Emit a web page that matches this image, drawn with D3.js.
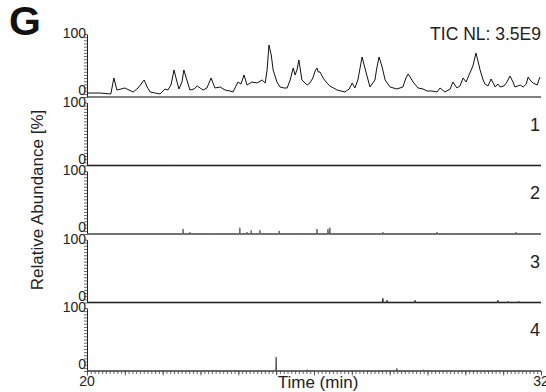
<!DOCTYPE html>
<html>
<head>
<meta charset="utf-8">
<script src="https://cdn.jsdelivr.net/npm/d3@7"></script>
<style>
  body { margin: 0; background: #fff; }
  text { font-family: "Liberation Sans", Arial, sans-serif; }
</style>
</head>
<body>
<div id="wrapper"></div>
<script>
// TIC trace (time in min, relative abundance in %)
const ticTime = [20.00, 20.34, 20.63, 20.71, 20.79, 20.90, 21.00, 21.11, 21.22, 21.35, 21.51, 21.59, 21.67, 21.80, 21.93,
  22.06, 22.14, 22.22, 22.30, 22.38, 22.43, 22.51, 22.56, 22.64, 22.72, 22.83, 22.91, 22.99, 23.07, 23.17, 23.28, 23.38,
  23.52, 23.65, 23.78, 23.86, 23.99, 24.07, 24.15, 24.23, 24.36, 24.49, 24.63, 24.71, 24.76, 24.81, 24.87, 24.92, 25.02,
  25.10, 25.21, 25.29, 25.37, 25.45, 25.50, 25.55, 25.60, 25.68, 25.82, 25.89, 25.97, 26.03, 26.08, 26.11, 26.16, 26.24,
  26.32, 26.42, 26.61, 26.82, 26.93, 27.01, 27.08, 27.16, 27.27, 27.38, 27.48, 27.61, 27.66, 27.72, 27.80, 27.88, 28.01,
  28.19, 28.35, 28.43, 28.49, 28.54, 28.62, 28.75, 28.88, 28.99, 29.12, 29.25, 29.33, 29.46, 29.60, 29.67, 29.78, 29.86,
  29.94, 30.02, 30.12, 30.20, 30.28, 30.34, 30.39, 30.47, 30.52, 30.60, 30.68, 30.79, 30.86, 30.92, 31.02, 31.10, 31.18,
  31.26, 31.31, 31.39, 31.45, 31.53, 31.61, 31.66, 31.71, 31.79, 31.90, 31.97]
const ticValue = [6.3, 6.3, 4.8, 30.2, 11.1, 12.7, 14.3, 11.1, 7.9, 14.3, 27.0, 15.9, 7.9, 6.3, 4.8,
  12.7, 11.1, 19.0, 42.9, 23.8, 12.7, 23.8, 42.9, 27.0, 11.1, 12.7, 17.5, 14.3, 11.1, 14.3, 30.2, 14.3,
  15.9, 11.1, 9.5, 7.9, 23.8, 20.6, 34.9, 19.0, 23.8, 22.2, 27.0, 22.2, 42.9, 82.5, 66.7, 42.9, 23.8,
  15.9, 14.3, 14.3, 27.0, 46.0, 34.9, 42.9, 58.7, 27.0, 19.0, 22.2, 30.2, 41.3, 46.0, 39.7, 39.7, 30.2,
  23.8, 17.5, 11.1, 7.9, 12.7, 22.2, 14.3, 27.0, 63.5, 38.1, 15.9, 27.0, 46.0, 63.5, 47.6, 27.0, 15.9,
  12.7, 15.9, 30.2, 36.5, 31.7, 23.8, 14.3, 12.7, 9.5, 9.5, 7.9, 14.3, 7.9, 12.7, 23.8, 14.3, 17.5,
  30.2, 23.8, 38.1, 49.2, 69.8, 55.6, 42.9, 27.0, 20.6, 17.5, 28.6, 15.9, 20.6, 15.9, 17.5, 23.8, 33.3,
  23.8, 15.9, 17.5, 19.0, 15.9, 20.6, 31.7, 27.0, 22.2, 19.0, 31.7]

// small spikes in the extracted traces 1-4
const trace1Time = [22.27]
const trace1Value = [1]
const trace2Time = [21.98, 22.54, 22.72, 22.91, 23.20, 24.04, 24.23, 24.34, 24.57, 25.08, 25.55, 25.68, 26.08, 26.37, 26.42, 26.95, 27.82, 29.25, 29.73, 31.34]
const trace2Value = [1.5, 8, 3, 1.5, 1.5, 10, 3, 6, 6, 5, 1.5, 1.5, 8, 8, 10, 1.5, 3, 3, 1.5, 3]
const trace3Time = [27.82, 27.93, 28.67, 30.86, 31.13, 31.42]
const trace3Value = [6.5, 3.3, 3.3, 3.3, 1.7, 1.7]
const trace4Time = [25.00, 25.82, 28.19, 28.88]
const trace4Value = [22, 2, 4, 2]

const panelLabels = ['', '1', '2', '3', '4']
const timeDomain = [20, 32]

const width = 546
const height = 392
const dims = {
  left: 87,
  right: 541,
  firstBase: 97,
  step: 68.5,
  panelHeight: 63
}

const svg = d3.select('#wrapper')
  .append('svg')
  .attr('width', width)
  .attr('height', height)

const xScale = d3.scaleLinear().domain(timeDomain).range([dims.left, dims.right])

const ticData = ticTime.map((t, i) => ({ t, v: ticValue[i] }))

const spikes = (times, values) => {
  const pts = [{ t: timeDomain[0], v: 0 }]
  times.forEach((t, i) => {
    pts.push({ t: t - 0.012, v: 0 }, { t, v: values[i] }, { t: t + 0.012, v: 0 })
  })
  pts.push({ t: timeDomain[1], v: 0 })
  return pts
}

const traces = [
  { data: ticData, color: '#111' },
  { data: spikes(trace1Time, trace1Value), color: '#222' },
  { data: spikes(trace2Time, trace2Value), color: '#666' },
  { data: spikes(trace3Time, trace3Value), color: '#222' },
  { data: spikes(trace4Time, trace4Value), color: '#555' }
]

traces.forEach((trace, i) => {
  const base = dims.firstBase + i * dims.step
  const yScale = d3.scaleLinear().domain([0, 100]).range([base, base - dims.panelHeight])
  const g = svg.append('g')

  // panel baseline
  g.append('line')
    .attr('x1', dims.left).attr('x2', dims.right)
    .attr('y1', base).attr('y2', base)
    .attr('stroke', '#808080')
    .attr('stroke-width', 2)

  // y axis with minor ticks
  const yAxis = g.append('g')
    .attr('transform', `translate(${dims.left},0)`)
    .call(d3.axisLeft(yScale).tickValues(d3.range(0, 101, 5)).tickSize(3).tickSizeOuter(0).tickFormat(''))
  yAxis.select('.domain').attr('stroke', '#222').attr('stroke-width', 1)
  yAxis.selectAll('.tick line').attr('stroke', '#444').attr('stroke-width', 0.8)

  g.append('text')
    .attr('x', dims.left - 1)
    .attr('y', yScale(100) + 4)
    .attr('text-anchor', 'end')
    .attr('font-size', '14px')
    .attr('fill', '#222')
    .text('100')
  g.append('text')
    .attr('x', dims.left - 1)
    .attr('y', yScale(0) - 2)
    .attr('text-anchor', 'end')
    .attr('font-size', '14px')
    .attr('fill', '#222')
    .text('0')

  const line = d3.line()
    .x(d => xScale(d.t))
    .y(d => yScale(d.v))

  g.append('path')
    .datum(trace.data)
    .attr('d', line)
    .attr('fill', 'none')
    .attr('stroke', trace.color)
    .attr('stroke-width', 1)

  if (panelLabels[i]) {
    g.append('text')
      .attr('x', dims.right - 1)
      .attr('y', base - dims.panelHeight + 28)
      .attr('text-anchor', 'end')
      .attr('font-size', '18px')
      .attr('fill', '#222')
      .text(panelLabels[i])
  }
})

// x axis on the bottom panel
const xBase = dims.firstBase + 4 * dims.step
const xMinor = svg.append('g')
  .attr('transform', `translate(0,${xBase})`)
  .call(d3.axisBottom(xScale).tickValues(d3.range(20, 32.001, 0.1)).tickSize(3).tickSizeOuter(0).tickFormat(''))
xMinor.select('.domain').remove()
xMinor.selectAll('.tick line').attr('stroke', '#444').attr('stroke-width', 0.8)

const xMajor = svg.append('g')
  .attr('transform', `translate(0,${xBase})`)
  .call(d3.axisBottom(xScale).tickValues(d3.range(20, 32.001, 1)).tickSize(4.5).tickSizeOuter(0).tickFormat(''))
xMajor.select('.domain').remove()
xMajor.selectAll('.tick line').attr('stroke', '#444').attr('stroke-width', 0.8)

svg.selectAll('.xlabel')
  .data(timeDomain)
  .enter().append('text')
  .attr('x', d => xScale(d))
  .attr('y', xBase + 15)
  .attr('text-anchor', 'middle')
  .attr('font-size', '14px')
  .attr('fill', '#222')
  .text(d => d)

svg.append('text')
  .attr('x', (dims.left + dims.right) / 2 + 4)
  .attr('y', xBase + 17)
  .attr('text-anchor', 'middle')
  .attr('font-size', '17px')
  .attr('fill', '#222')
  .text('Time (min)')

svg.append('text')
  .attr('transform', `translate(43,${200}) rotate(-90)`)
  .attr('text-anchor', 'middle')
  .attr('font-size', '17px')
  .attr('fill', '#222')
  .text('Relative Abundance [%]')

svg.append('text')
  .attr('x', dims.right)
  .attr('y', 40)
  .attr('text-anchor', 'end')
  .attr('font-size', '17.5px')
  .attr('fill', '#222')
  .text('TIC NL: 3.5E9')

svg.append('text')
  .attr('x', 9)
  .attr('y', 35)
  .attr('font-size', '41px')
  .attr('font-weight', 'bold')
  .attr('fill', '#111')
  .text('G')
</script>
</body>
</html>
